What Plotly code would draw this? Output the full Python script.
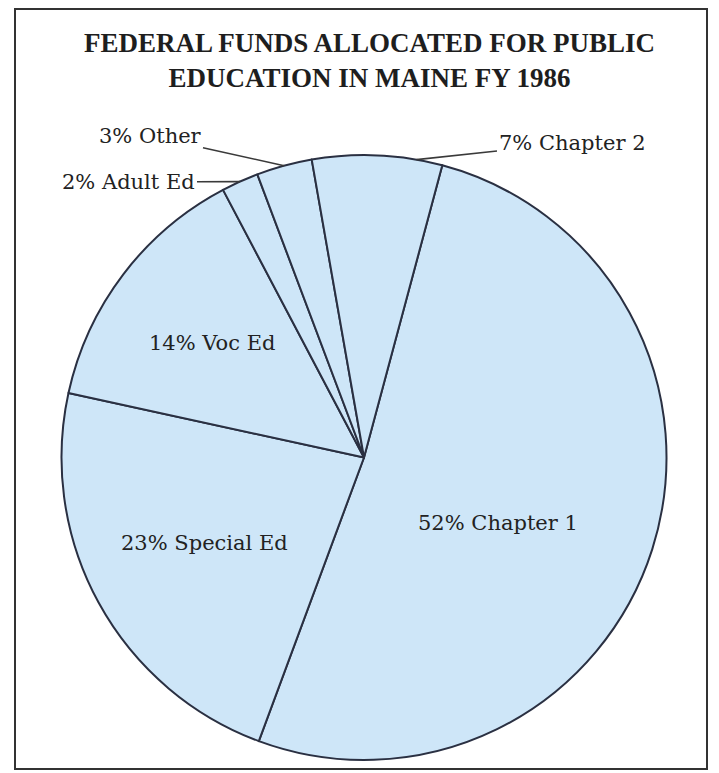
import math
import plotly.graph_objects as go

# ---- data ----
categories = ["Chapter 1", "Special Ed", "Voc Ed", "Adult Ed", "Other", "Chapter 2"]
percents = [52, 23, 14, 2, 3, 7]
title_lines = ["FEDERAL FUNDS ALLOCATED FOR PUBLIC", "EDUCATION IN MAINE FY 1986"]

# ---- layout constants (pixels in a 719x773 page) ----
W, H = 719, 773
CX, CY, R = 364, 457.5, 302.5
ROTATION = 15
FILL = "#cee6f8"
EDGE = "#2a3042"
TEXT = "#222222"
FONT = "DejaVu Serif"
TITLE_FONT = "Liberation Serif"

def px(x):
    return x / W

def py(y):
    return 1 - y / H

fig = go.Figure(go.Pie(
    labels=categories,
    values=percents,
    sort=False,
    direction="clockwise",
    rotation=ROTATION,
    marker=dict(colors=[FILL] * len(categories), line=dict(color=EDGE, width=2)),
    textinfo="none",
    hoverinfo="label+value",
    showlegend=False,
    domain=dict(x=[px(CX - R), px(CX + R)], y=[py(CY + R), py(CY - R)]),
))

# label placement (centers) for inside labels
inside_pos = {"Chapter 1": (498, 523), "Special Ed": (204, 543), "Voc Ed": (212, 343)}
# outside labels: text center and where along the slice the leader touches (fraction)
outside_pos = {"Adult Ed": ((129, 182), 0.5), "Other": ((150, 136), 0.5), "Chapter 2": ((572, 143), 0.8)}

total = sum(percents)
annotations = []
start = ROTATION
for cat, v in zip(categories, percents):
    span = 360 * v / total
    label = f"{v}% {cat}"
    if cat in inside_pos:
        x, y = inside_pos[cat]
        annotations.append(dict(x=px(x), y=py(y), xref="paper", yref="paper", text=label,
                                showarrow=False, xanchor="center", yanchor="middle",
                                font=dict(family=FONT, size=21, color=TEXT)))
    else:
        (tx, ty), frac = outside_pos[cat]
        ang = math.radians(start + span * frac)
        tipx = CX + R * math.sin(ang)
        tipy = CY - R * math.cos(ang)
        annotations.append(dict(x=px(tipx), y=py(tipy), xref="paper", yref="paper", text=label,
                                showarrow=True, arrowhead=0, arrowwidth=1.6, arrowcolor="#3a3a3a",
                                ax=tx - tipx, ay=ty - tipy, xanchor="center", yanchor="middle",
                                font=dict(family=FONT, size=21, color=TEXT)))
    start += span

annotations.append(dict(x=px(369), y=py(61), xref="paper", yref="paper",
                        text="<b>" + "<br>".join(title_lines) + "</b>",
                        showarrow=False, xanchor="center", yanchor="middle", align="center",
                        font=dict(family=TITLE_FONT, size=27, color="#1e1e1e")))

fig.update_layout(
    width=W, height=H,
    margin=dict(l=0, r=0, t=0, b=0),
    paper_bgcolor="white",
    plot_bgcolor="white",
    annotations=annotations,
    shapes=[dict(type="rect", xref="paper", yref="paper",
                 x0=px(15), x1=px(707), y0=py(769), y1=py(9),
                 line=dict(color="#333333", width=2))],
)

fig.write_html("out.html")
